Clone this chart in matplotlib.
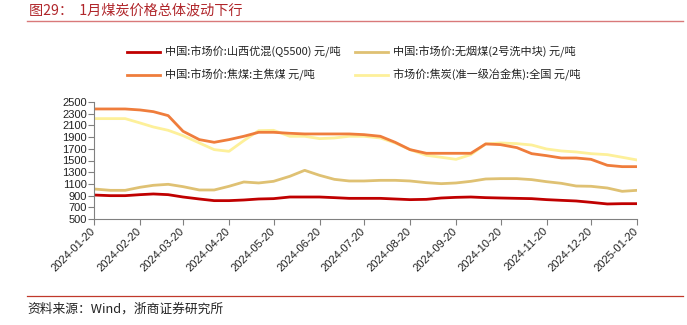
import matplotlib
matplotlib.use("Agg")
import matplotlib.pyplot as plt
import matplotlib.dates as mdates
from matplotlib.lines import Line2D
import pandas as pd

# ---- datos (旬度) ----
fechas = [
    "2024-01-20", "2024-01-31", "2024-02-10", "2024-02-20", "2024-02-29",
    "2024-03-10", "2024-03-20", "2024-03-31", "2024-04-10", "2024-04-20",
    "2024-04-30", "2024-05-10", "2024-05-20", "2024-05-31", "2024-06-10",
    "2024-06-20", "2024-06-30", "2024-07-10", "2024-07-20", "2024-07-31",
    "2024-08-10", "2024-08-20", "2024-08-31", "2024-09-10", "2024-09-20",
    "2024-09-30", "2024-10-10", "2024-10-20", "2024-10-31", "2024-11-10",
    "2024-11-20", "2024-11-30", "2024-12-10", "2024-12-20", "2024-12-31",
    "2025-01-10", "2025-01-20",
]

shanxi_q5500 = [910, 899, 899, 916, 928, 916, 876, 842, 814, 814,
                825, 842, 848, 876, 876, 876, 865, 853, 853, 853,
                842, 831, 836, 859, 870, 876, 865, 859, 853, 848,
                831, 819, 808, 785, 757, 762, 762]

wuyanmei = [1013, 990, 990, 1042, 1076, 1093, 1053, 996, 996, 1059,
            1133, 1116, 1144, 1230, 1332, 1247, 1178, 1150, 1150, 1161,
            1161, 1150, 1121, 1104, 1116, 1144, 1184, 1190, 1190, 1173,
            1138, 1110, 1064, 1059, 1030, 973, 990]

zhujiaomei = [2381, 2381, 2381, 2364, 2335, 2267, 2000, 1857, 1811, 1857,
              1914, 1982, 1982, 1965, 1954, 1954, 1954, 1954, 1942, 1914,
              1811, 1686, 1623, 1623, 1623, 1623, 1783, 1771, 1720, 1617,
              1583, 1543, 1543, 1520, 1418, 1395, 1395]

jiaotan = [2216, 2216, 2216, 2142, 2073, 2016, 1925, 1800, 1686, 1657,
           1840, 2010, 2016, 1914, 1914, 1874, 1885, 1914, 1914, 1885,
           1800, 1686, 1589, 1555, 1520, 1600, 1783, 1800, 1788, 1765,
           1697, 1663, 1646, 1617, 1600, 1555, 1509]

etiquetas = [
    "中国:市场价:山西优混(Q5500) 元/吨",
    "中国:市场价:无烟煤(2号洗中块) 元/吨",
    "中国:市场价:焦煤:主焦煤 元/吨",
    "市场价:焦炭(准一级冶金焦):全国 元/吨",
]
colores = ["#C00000", "#DFC173", "#EF7D3C", "#FDF09A"]

y_ticks = list(range(500, 2501, 200))
x_ticks = ["2024-%02d-20" % m for m in range(1, 13)] + ["2025-01-20"]

CJK = ["Noto Sans CJK SC", "DejaVu Sans"]
plt.rcParams["font.family"] = ["Liberation Sans", "DejaVu Sans"]

x = pd.to_datetime(fechas)
series = [shanxi_q5500, wuyanmei, zhujiaomei, jiaotan]

fig = plt.figure(figsize=(6.87, 3.25), dpi=100)
ax = fig.add_axes([94 / 687, 1 - 219 / 325, 543 / 687, 117 / 325])

# dibujar de atrás hacia adelante como en la figura
orden = [3, 2, 1, 0]
for i in orden:
    ax.plot(x, series[i], color=colores[i], lw=2.0, solid_joinstyle="round")

ax.set_ylim(500, 2500)
ax.set_yticks(y_ticks)
ax.set_xlim(pd.Timestamp("2024-01-20"), pd.Timestamp("2025-01-20"))
ax.set_xticks(pd.to_datetime(x_ticks))
ax.xaxis.set_major_formatter(mdates.DateFormatter("%Y-%m-%d"))
for s in ["top", "right"]:
    ax.spines[s].set_visible(False)
for s in ["left", "bottom"]:
    ax.spines[s].set_color("#808080")
    ax.spines[s].set_linewidth(0.8)
ax.tick_params(axis="both", colors="#808080", labelcolor="#222222",
               labelsize=8, length=4, width=0.8, direction="out")
ax.tick_params(axis="y", pad=1)
for lab in ax.get_xticklabels():
    lab.set_rotation(45)
    lab.set_ha("right")
    lab.set_va("center")
    lab.set_rotation_mode("anchor")

# leyenda manual en 2 columnas
pos = [(127, 52), (355, 52), (127, 75), (355, 75)]
for (px, py), col, txt in zip(pos, colores, etiquetas):
    fig.add_artist(Line2D([px / 687, (px + 33) / 687], [1 - py / 325] * 2,
                          color=col, lw=2.0, transform=fig.transFigure))
    fig.text((px + 38) / 687, 1 - py / 325, txt, family=CJK, fontsize=8,
             va="center", ha="left", color="#222222")

# título y fuente
fig.text(29 / 687, 1 - 10 / 325, "图29：  1月煤炭价格总体波动下行", family=CJK,
         fontsize=10.2, color="#B0262B", va="center", ha="left")
fig.add_artist(Line2D([27 / 687, 683 / 687], [1 - 21 / 325] * 2,
                      color="#D9797A", lw=1.0, transform=fig.transFigure))
fig.add_artist(Line2D([27 / 687, 683 / 687], [1 - 296 / 325] * 2,
                      color="#C0392B", lw=0.9, transform=fig.transFigure))
fig.text(27 / 687, 1 - 309 / 325, "资料来源：Wind，浙商证券研究所", family=CJK,
         fontsize=9.2, color="#222222", va="center", ha="left")

fig.savefig("out.png", dpi=100)
